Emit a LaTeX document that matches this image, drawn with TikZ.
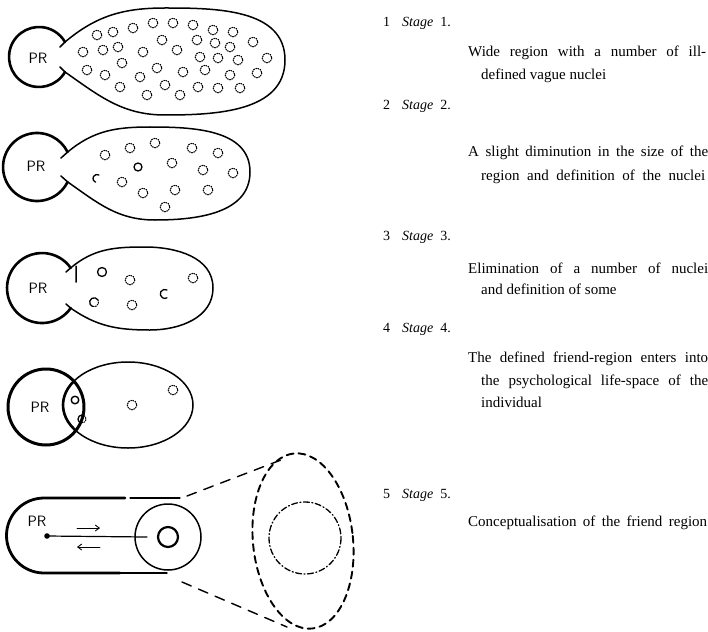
\documentclass[tikz,border=0pt]{standalone}
\usepackage{fontspec}
\setmainfont{Liberation Serif}
\usetikzlibrary{arrows.meta}
\begin{document}
\begin{tikzpicture}[x=1pt,y=-1pt,line cap=round,line join=round,
  prline/.style={line width=2.6pt},
  regline/.style={line width=1.5pt},
  nucd/.style={line width=1.1pt,dash pattern=on 0.9pt off 1.4pt},
  nucs/.style={line width=1.3pt},
  txt/.style={anchor=base west,inner sep=0pt,font=\fontsize{15}{17}\selectfont},
  prtxt/.style={inner sep=0pt,font=\sffamily\fontsize{15}{17}\selectfont},
  stg/.style={anchor=base west,inner sep=0pt,font=\fontsize{14}{16}\selectfont}]
\useasboundingbox (0,0) rectangle (708,631);

% ---------- Stage 1 ----------
\draw[prline] (65,72) arc[start angle=30,end angle=330,radius=30];
\draw[regline] (65,42) to[out=40,in=180] (165,8) to[out=0,in=90] (285,60)
  to[out=-90,in=0] (165,115) to[out=180,in=-35] (65,72);
\draw[regline] (65,42) -- (60,47) (65,72) -- (60,67);
\node[prtxt] (pr1) at (38,58) {PR};
\foreach \p in {(97,35),(113,32),(133,28),(153,23),(173,23),(193,25),(213,30),(233,32),
  (118,47),(162,40),(197,40),(215,43),(230,47),(253,42),
  (83,52),(103,50),(143,52),(177,50),(200,57),(218,58),(238,60),(267,58),
  (87,70),(105,75),(122,63),(157,68),(183,72),(205,70),(230,75),(257,73),
  (140,77),(120,87),(147,95),(165,85),(180,95),(198,87),(218,88),(240,88)}
  \draw[nucd] \p circle[radius=4.8];

% ---------- Stage 2 ----------
\draw[prline] (67.6,181.9) arc[start angle=26,end angle=334,radius=34];
\draw[regline] (67.6,152.1) to[out=40,in=180] (150,127) to[out=0,in=90] (250,172)
  to[out=-90,in=0] (155,220) to[out=180,in=-35] (67.6,181.9);
\draw[regline] (67.6,152.1) -- (61,158) (67.6,181.9) -- (61,176);
\node[prtxt] (pr2) at (36,166) {PR};
\foreach \p in {(105,155),(130,148),(155,143),(192,148),(218,153),(172,163),(203,170),
  (233,173),(122,182),(143,193),(175,190),(208,190),(165,207)}
  \draw[nucd] \p circle[radius=4.8];
\draw[nucs] (138,167) circle[radius=4];
\draw[nucs] (99,175) arc[start angle=-60,end angle=-250,radius=4];

% ---------- Stage 3 ----------
\draw[prline] (70.7,308.1) arc[start angle=35,end angle=325,radius=35];
\draw[regline] (70.7,267.9) to[out=40,in=180] (145,247) to[out=0,in=90] (213,288)
  to[out=-90,in=0] (150,330) to[out=180,in=-35] (70.7,308.1);
\draw[regline] (76,266) -- (76,282) (70.7,267.9) -- (66,272);
\draw[regline] (70.7,308.1) -- (66,304);
\node[prtxt] (pr3) at (38,288) {PR};
\draw[nucs] (102,272) circle[radius=4.5];
\draw[nucd] (130,280) circle[radius=4.8];
\draw[nucd] (193,278) circle[radius=4.8];
\draw[nucd] (132,305) circle[radius=4.8];
\draw[nucs] (98,300) arc[start angle=-30,end angle=-250,radius=4.5];
\draw[nucd] (98,300) arc[start angle=-30,end angle=110,radius=4.5];
\draw[nucs] (167,290) arc[start angle=-60,end angle=-300,radius=4.5];

% ---------- Stage 4 ----------
\draw[prline,line width=3pt] (46,407) circle[radius=38];
\draw[regline] (128,405) ellipse[x radius=65,y radius=43];
\begin{scope}
  \clip (46,407) circle[radius=38];
  \draw[prline] (128,405) ellipse[x radius=65,y radius=43];
\end{scope}
\node[prtxt] (pr4) at (40,407) {PR};
\draw[line width=1.4pt] (75,400) circle[radius=3.8];
\draw[nucs] (82,415) arc[start angle=-90,end angle=-250,radius=4];
\draw[nucd] (82,415) arc[start angle=-90,end angle=110,radius=4];
\draw[nucd] (132,405) circle[radius=4.8];
\draw[nucd] (173,390) circle[radius=4.8];

% ---------- Stage 5 ----------
\draw[line width=2.8pt] (125,498) -- (44,498) arc[start angle=-90,end angle=-270,radius=37.5] -- (120,573);
\draw[line width=1.1pt] (130,498) -- (180,498);
\draw[line width=1.4pt] (120,573) -- (167,573);
\draw[line width=1.5pt] (168,537) circle[radius=33];
\draw[line width=2.2pt] (168,537) circle[radius=10];
\fill (47,536) circle[radius=2.8];
\coordinate (dot) at (47,536);
\coordinate (lineend) at (147,537);
\draw[line width=1.2pt] (dot) -- (lineend);
\node[prtxt] (pr5) at (37,521) {PR};
\coordinate (a1) at (77,528); \coordinate (a2) at (100,528);
\coordinate (b1) at (100,547); \coordinate (b2) at (77,547);
\draw[line width=0.9pt,-{Straight Barb[length=4pt,width=6pt]}] (a1) -- (a2);
\draw[line width=0.9pt,-{Straight Barb[length=4pt,width=6pt]}] (b1) -- (b2);
\draw[line width=1.9pt,dash pattern=on 7pt off 5pt,rotate around={6:(303,541)}]
  (303,541) ellipse[x radius=50,y radius=88];
\draw[line width=1.3pt,dash pattern=on 6pt off 2.5pt on 1pt off 2.5pt] (305,538) circle[radius=36];
\draw[line width=1.4pt,dash pattern=on 10pt off 8pt] (187,496) -- (281,460);
\draw[line width=1.4pt,dash pattern=on 10pt off 8pt] (182,582) -- (287,627);

% ---------- Texts ----------
\node[stg] (n1) at (383,27) {1};
\node[stg] (s1) at (402,27) {\textit{Stage}\ \ 1.};
\node[txt] (t1a) at (468,57) {\makebox[238pt][s]{Wide region with a number of ill-}};
\node[txt] (t1b) at (481,80) {defined vague nuclei};

\node[stg] (n2) at (383,110) {2};
\node[stg] (s2) at (402,110) {\textit{Stage}\ \ 2.};
\node[txt] (t2a) at (468,157) {\makebox[240pt][s]{A slight diminution in the size of the}};
\node[txt] (t2b) at (481,180) {\makebox[224pt][s]{region and definition of the nuclei}};

\node[stg] (n3) at (383,240) {3};
\node[stg] (s3) at (402,240) {\textit{Stage}\ \ 3.};
\node[txt] (t3a) at (468,273) {\makebox[240pt][s]{Elimination of a number of nuclei}};
\node[txt] (t3b) at (481,294) {and definition of some};

\node[stg] (n4) at (383,332) {4};
\node[stg] (s4) at (402,332) {\textit{Stage}\ \ 4.};
\node[txt] (t4a) at (468,362) {\makebox[240pt][s]{The defined friend-region enters into}};
\node[txt] (t4b) at (481,385) {\makebox[227pt][s]{the psychological life-space of the}};
\node[txt] (t4c) at (481,407) {individual};

\node[stg] (n5) at (383,498) {5};
\node[stg] (s5) at (402,498) {\textit{Stage}\ \ 5.};
\node[txt] (t5a) at (468,526) {\makebox[239pt][s]{Conceptualisation of the friend region}};
\end{tikzpicture}
\end{document}
